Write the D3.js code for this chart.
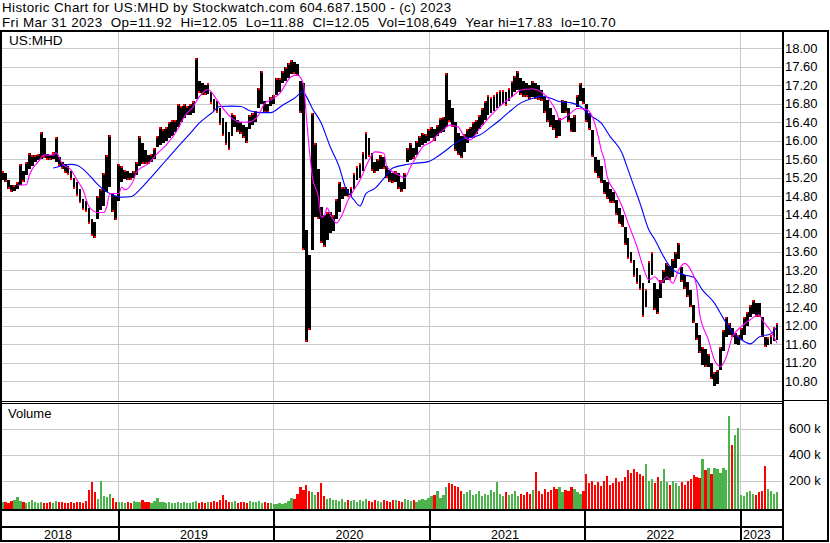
<!DOCTYPE html>
<html><head><meta charset="utf-8">
<script src="https://cdn.jsdelivr.net/npm/d3@7"></script>
<style>
body{margin:0;background:#fff}
svg{display:block}
text{font-family:"Liberation Sans",Arial,sans-serif;fill:#000}
</style>
</head><body>
<svg id="c" width="830" height="543"></svg>
<script>
// ---------------- DATA ----------------
const headerLines = [
  "Historic Chart for US:MHD by Stockwatch.com 604.687.1500 - (c) 2023",
  "Fri Mar 31 2023  Op=11.92  Hi=12.05  Lo=11.88  Cl=12.05  Vol=108,649  Year hi=17.83  lo=10.70"
];
const symbol = "US:MHD";
const firstWeek = "2018-04-02";   // Monday of first weekly bar
const lastDay = "2023-03-31";
const yearLabels = ["2018","2019","2020","2021","2022","2023"];
const priceTicks = [18.00,17.60,17.20,16.80,16.40,16.00,15.60,15.20,14.80,14.40,14.00,13.60,13.20,12.80,12.40,12.00,11.60,11.20,10.80];
const volTicks = [200,400,600];   // thousands

// weekly high / low
const weekHigh = [
15.35,15.30,15.15,15.05,15.05,15.10,15.50,15.35,15.55,15.73,
15.70,15.70,15.72,16.20,16.05,15.72,15.70,15.75,16.09,15.65,
15.55,15.50,15.45,15.35,15.20,15.10,14.95,14.75,14.70,14.55,
14.30,14.25,14.80,14.95,15.30,15.70,16.12,14.87,14.80,15.50,
15.45,15.37,15.35,15.30,15.35,15.55,16.10,15.95,15.80,15.70,
15.72,15.85,16.10,16.30,16.25,16.30,16.40,16.45,16.45,16.80,
16.75,16.80,16.75,16.80,16.85,17.80,17.30,17.25,17.20,17.25,
17.05,16.90,16.85,16.70,16.50,16.40,16.20,16.60,16.55,16.45,
16.40,16.35,16.30,16.55,16.60,16.65,17.14,17.50,16.85,16.80,
16.95,17.00,17.36,17.35,17.50,17.60,17.68,17.75,17.70,17.65,
17.30,17.25,14.07,13.53,16.60,15.95,15.40,14.57,14.40,14.45,
14.45,14.40,14.75,15.10,15.00,15.00,14.95,15.00,15.30,15.45,
15.52,15.75,16.18,16.05,15.73,15.55,15.60,15.70,15.65,15.45,
15.37,15.30,15.35,15.30,15.10,15.30,15.85,15.95,15.85,16.00,
16.10,16.17,16.15,16.25,16.30,16.25,16.35,16.50,16.52,17.46,
16.88,16.70,16.40,16.17,16.10,16.15,16.25,16.30,16.40,16.45,
16.55,16.70,16.85,17.00,16.95,17.00,17.05,17.10,17.10,17.05,
17.15,17.30,17.40,17.50,17.35,17.30,17.25,17.20,17.30,17.25,
17.20,17.10,16.95,16.88,16.70,16.55,16.45,16.50,16.88,16.85,
16.70,16.50,16.55,17.00,17.25,17.15,16.80,16.60,16.23,15.65,
15.58,15.45,15.15,15.10,14.95,14.90,14.72,14.55,14.40,14.14,
13.90,13.60,13.43,13.25,13.10,12.93,12.80,13.40,13.60,12.93,
12.80,13.00,13.20,13.36,13.30,13.45,13.60,13.78,13.28,13.10,
12.95,12.77,12.45,12.06,11.80,11.55,11.50,11.40,11.20,11.00,
11.05,11.55,11.90,12.20,12.06,11.95,11.84,11.80,11.95,12.20,
12.30,12.45,12.56,12.50,12.50,12.20,11.76,11.75,11.80,11.97,12.05];
const weekLow = [
15.15,15.10,14.95,14.90,14.92,14.95,15.05,15.10,15.25,15.40,
15.45,15.55,15.58,15.60,15.62,15.58,15.58,15.60,15.55,15.45,
15.40,15.30,15.25,15.15,14.95,14.80,14.65,14.50,14.45,14.20,
13.95,13.89,14.30,14.50,14.60,14.90,15.00,14.45,14.29,14.70,
15.10,15.18,15.15,15.15,15.20,15.25,15.45,15.50,15.50,15.50,
15.55,15.60,15.87,15.90,15.95,16.00,16.05,16.10,16.20,16.30,
16.40,16.50,16.55,16.55,16.60,16.90,17.03,17.00,17.00,17.02,
16.80,16.65,16.60,16.35,16.10,15.90,15.80,16.10,16.30,16.20,
16.15,16.05,15.95,16.25,16.35,16.40,16.70,16.80,16.60,16.60,
16.75,16.80,17.00,17.05,17.25,17.30,17.35,17.45,17.45,17.40,
16.60,13.64,11.66,11.90,13.64,14.35,14.30,13.80,13.70,13.85,
14.00,14.05,14.30,14.45,14.75,14.80,14.78,14.80,14.95,15.15,
15.20,15.35,15.60,15.65,15.35,15.30,15.35,15.40,15.40,15.20,
15.10,15.09,15.10,14.95,14.89,14.95,15.55,15.58,15.60,15.70,
15.87,15.90,15.95,16.00,16.05,16.00,16.10,16.17,16.20,16.30,
16.40,16.30,15.77,15.70,15.63,15.75,15.95,16.05,16.05,16.15,
16.25,16.35,16.45,16.55,16.60,16.65,16.70,16.75,16.80,16.75,
16.85,16.95,17.05,17.10,17.00,16.95,16.95,16.90,16.95,16.90,
16.88,16.85,16.60,16.40,16.30,16.23,16.06,16.10,16.60,16.60,
16.40,16.20,16.20,16.73,16.85,16.80,16.40,16.23,15.65,15.30,
15.20,15.09,14.85,14.75,14.65,14.65,14.40,14.20,14.14,13.75,
13.45,13.36,13.05,12.90,12.77,12.19,12.40,12.93,13.10,12.35,
12.25,12.60,12.93,13.00,13.00,13.06,13.25,13.45,12.95,12.80,
12.63,12.40,12.06,11.70,11.41,11.15,11.11,11.10,10.85,10.70,
10.75,11.05,11.45,11.76,11.80,11.76,11.60,11.58,11.70,11.80,
12.00,12.20,12.25,12.20,12.19,11.76,11.55,11.58,11.60,11.68,11.70];
// weekly volume in thousands
const weekVolK = [
35,40,30,45,55,75,45,40,30,35,
55,40,30,35,25,30,35,30,45,40,
35,30,25,35,30,40,35,30,45,130,
190,110,60,200,80,75,100,70,40,35,
40,30,35,25,45,40,35,50,40,35,
30,45,65,40,35,30,35,30,25,40,
30,35,25,30,35,45,30,40,30,35,
40,45,35,50,90,55,40,35,45,30,
40,35,30,45,40,35,45,30,35,30,
25,20,20,25,20,30,45,70,60,100,
150,130,165,120,110,90,110,185,80,60,
70,55,50,45,60,40,50,45,55,40,
50,45,60,45,40,55,45,40,50,45,
40,50,55,45,40,60,50,45,55,40,
50,60,55,65,80,90,120,70,90,150,
185,175,160,150,120,100,110,130,90,100,
120,80,100,90,130,110,190,100,80,110,
90,100,120,80,100,90,110,100,130,270,
120,100,140,110,130,150,140,150,110,130,
120,150,140,110,100,120,250,180,200,170,
190,160,200,240,170,180,220,190,200,230,
280,260,290,270,250,240,330,200,210,180,
230,200,290,190,170,200,180,160,190,170,
200,210,245,230,220,370,280,300,250,300,
290,260,300,280,700,477,554,608,90,80,
110,120,100,90,110,120,315,140,120,100,110];
const greenWeeks = [33,166,216,222,235,237,239,244,246,247];   // up-volume weeks
const redWeeks = [30,107,179,196,203,212,232,245,256];          // down-volume weeks
// moving averages: [week index, value]
const maFast = [[5,15.04],[8,15.05],[9,15.26],[12,15.55],[14,15.69],[17,15.69],[18,15.74],[20,15.51],[23,15.37],[25,15.15],[27,14.94],[29,14.58],[32,14.45],[34,14.45],[35,14.58],[36,14.86],[39,14.86],[40,15.00],[41,14.94],[44,15.15],[45,15.33],[49,15.51],[52,15.73],[55,15.91],[59,16.27],[61,16.52],[64,16.74],[66,16.95],[69,17.11],[72,16.88],[74,16.70],[77,16.49],[79,16.41],[81,16.40],[83,16.41],[86,16.56],[88,16.81],[90,16.88],[93,17.02],[97,17.39],[99,17.42],[101,17.24],[102,16.52],[103,15.80],[104,15.22],[106,14.79],[107,14.35],[108,14.38],[109,14.55],[110,14.40],[111,14.30],[112,14.22],[114,14.40],[116,14.72],[118,14.94],[120,15.15],[123,15.58],[125,15.76],[128,15.73],[129,15.44],[133,15.26],[135,15.20],[137,15.44],[139,15.66],[141,15.87],[144,15.98],[146,16.13],[148,16.23],[150,16.34],[153,16.30],[155,16.09],[157,16.02],[160,16.25],[164,16.55],[167,16.75],[171,16.95],[174,17.10],[178,17.12],[181,17.05],[184,16.85],[186,16.62],[187,16.45],[190,16.56],[193,16.70],[196,16.68],[198,16.52],[200,16.09],[201,15.80],[202,15.60],[203,15.22],[206,14.86],[208,14.58],[210,14.22],[213,13.71],[215,13.28],[217,12.99],[219,13.06],[221,12.92],[223,13.06],[225,12.92],[227,13.21],[229,13.35],[231,13.21],[233,12.85],[234,12.27],[237,11.69],[239,11.26],[241,11.12],[243,11.33],[245,11.76],[248,11.98],[251,12.13],[254,12.24],[255,12.13],[258,11.87],[260,11.62]];
const maSlow = [[17,15.41],[20,15.46],[23,15.49],[25,15.47],[28,15.33],[31,15.12],[34,14.94],[37,14.83],[40,14.78],[43,14.79],[46,14.94],[50,15.22],[53,15.44],[56,15.66],[60,15.95],[63,16.16],[66,16.38],[70,16.59],[73,16.74],[77,16.75],[80,16.74],[83,16.65],[87,16.61],[90,16.61],[94,16.77],[98,16.92],[101,17.06],[102,16.96],[104,16.70],[107,16.38],[110,15.87],[113,15.44],[115,15.01],[118,14.72],[120,14.59],[122,14.86],[125,14.97],[128,15.19],[131,15.41],[135,15.48],[138,15.51],[143,15.55],[146,15.66],[149,15.80],[152,15.95],[155,16.05],[157,16.07],[160,16.12],[164,16.30],[167,16.45],[170,16.62],[174,16.82],[178,16.92],[181,16.97],[184,16.92],[187,16.85],[191,16.82],[194,16.74],[197,16.56],[201,16.38],[204,16.09],[208,15.73],[210,15.37],[212,15.01],[214,14.65],[217,14.07],[219,13.86],[222,13.49],[225,13.21],[229,13.10],[232,13.05],[235,12.77],[239,12.49],[242,12.16],[245,11.87],[249,11.66],[251,11.61],[254,11.76],[258,11.83],[260,11.98]];

// ---------------- LAYOUT ----------------
const svg = d3.select("#c");
const plotL = 2, plotR = 782;
const priceTop = 32, priceBot = 401;
const volTop = 403, volBot = 509;
const GRID = "#c8c8c8";

const parse = d3.timeParse("%Y-%m-%d");
const t0 = parse(firstWeek), tEnd = parse(lastDay);
const weekMid = i => d3.timeDay.offset(t0, 7 * i + 2);

const x = d3.scaleTime()
  .domain([new Date(2019, 0, 1), new Date(2023, 0, 1)])
  .range([118.3, 740]);
const yP = d3.scaleLinear().domain([10.8, 18]).range([381.3, 48.3]);
const yV = d3.scaleLinear().domain([0, 600]).range([506.7, 428.7]);

const crisp = v => Math.round(v) + 0.5;
const years = yearLabels.map(y => new Date(+y, 0, 1));
const yearBounds = years.slice(1);

// header
svg.append("g").style("font-size", "13.4px").style("letter-spacing", "0.4px")
  .selectAll("text").data(headerLines).join("text")
  .attr("x", 2).attr("y", (d, i) => i ? 27.2 : 12.1)
  .style("white-space", "pre").text(d => d);

// price gridlines
const gP = svg.append("g").attr("shape-rendering", "crispEdges");
gP.selectAll("line.h").data(priceTicks).join("line")
  .attr("x1", plotL).attr("x2", plotR)
  .attr("y1", d => crisp(yP(d))).attr("y2", d => crisp(yP(d)))
  .attr("stroke", GRID);
gP.selectAll("line.v").data(yearBounds).join("line")
  .attr("x1", d => Math.floor(x(d)) + 0.5).attr("x2", d => Math.floor(x(d)) + 0.5)
  .attr("y1", priceTop).attr("y2", priceBot).attr("stroke", GRID);

// volume gridlines
const gV = svg.append("g").attr("shape-rendering", "crispEdges");
gV.selectAll("line.h").data(volTicks).join("line")
  .attr("x1", plotL).attr("x2", plotR)
  .attr("y1", d => crisp(yV(d))).attr("y2", d => crisp(yV(d)))
  .attr("stroke", GRID);
gV.selectAll("line.v").data(yearBounds).join("line")
  .attr("x1", d => Math.floor(x(d)) + 0.5).attr("x2", d => Math.floor(x(d)) + 0.5)
  .attr("y1", volTop).attr("y2", volBot).attr("stroke", GRID);

// symbol label
svg.append("text").attr("x", 9).attr("y", 45).style("font-size", "13.6px").text(symbol);
svg.append("text").attr("x", 8).attr("y", 418).style("font-size", "13px").text("Volume");

// price bars
const weeks = d3.range(weekHigh.length);
const mid = i => (weekHigh[i] + weekLow[i]) / 2;
const isUp = i => greenWeeks.includes(i) ? true : redWeeks.includes(i) ? false : (i === 0 ? true : mid(i) >= mid(i - 1));
svg.append("g").attr("shape-rendering", "crispEdges")
  .selectAll("rect").data(weeks).join("rect")
  .attr("x", i => x(weekMid(i)) - 1.4).attr("width", 2.8)
  .attr("y", i => yP(weekHigh[i]))
  .attr("height", i => Math.max(1, yP(weekLow[i]) - yP(weekHigh[i])))
  .attr("fill", "#000");
// red close ticks (close end of each weekly bar)
svg.append("g").attr("shape-rendering", "crispEdges")
  .selectAll("rect").data(weeks).join("rect")
  .attr("x", i => x(weekMid(i)) - 1).attr("width", 2)
  .attr("y", i => isUp(i) ? yP(weekHigh[i]) : yP(weekLow[i]) - 2).attr("height", 2)
  .attr("fill", "#ff0000");

// moving averages
const maLine = d3.line().x(d => x(weekMid(d[0]))).y(d => yP(d[1])).curve(d3.curveMonotoneX);
svg.append("path").attr("d", maLine(maSlow)).attr("fill", "none").attr("stroke", "#0000ff").attr("stroke-width", 1.1);
svg.append("path").attr("d", maLine(maFast)).attr("fill", "none").attr("stroke", "#ff00ff").attr("stroke-width", 1.1);

// volume bars
svg.append("g").attr("shape-rendering", "crispEdges")
  .selectAll("rect").data(weeks).join("rect")
  .attr("x", i => x(weekMid(i)) - 1.1).attr("width", 2.2)
  .attr("y", i => yV(weekVolK[i]))
  .attr("height", i => volBot - yV(weekVolK[i]))
  .attr("fill", i => isUp(i) ? "#4cb34c" : "#ff0000");

// axes
const axP = svg.append("g").attr("transform", `translate(${plotR + 1},0)`)
  .call(d3.axisRight(yP).tickValues(priceTicks).tickFormat(d3.format(".2f")).tickSize(0).tickPadding(2));
const axV = svg.append("g").attr("transform", `translate(${plotR + 1},0)`)
  .call(d3.axisRight(yV).tickValues(volTicks).tickFormat(d => d + " k").tickSize(0).tickPadding(6));
[axP, axV].forEach(a => {
  a.select(".domain").remove();
  a.selectAll("text").style("font-size", "13px").attr("font-family", null).style("fill", "#000");
  a.attr("font-family", null).attr("font-size", null);
});

// frame
const frame = svg.append("g").attr("shape-rendering", "crispEdges").attr("fill", "#000");
frame.append("rect").attr("x", 0).attr("y", 30).attr("width", 829).attr("height", 2);
frame.append("rect").attr("x", 0).attr("y", 30).attr("width", 2).attr("height", 512);
frame.append("rect").attr("x", 827).attr("y", 30).attr("width", 2).attr("height", 512);
frame.append("rect").attr("x", 0).attr("y", 540).attr("width", 829).attr("height", 2);
frame.append("rect").attr("x", plotR).attr("y", 30).attr("width", 2).attr("height", 512);
frame.append("rect").attr("x", 0).attr("y", 401).attr("width", plotR).attr("height", 1);
frame.append("rect").attr("x", 0).attr("y", 403).attr("width", plotR).attr("height", 1);
frame.append("rect").attr("x", plotR).attr("y", 400).attr("width", 829 - plotR).attr("height", 1);
frame.append("rect").attr("x", 0).attr("y", volBot).attr("width", plotR).attr("height", 2);
frame.append("rect").attr("x", 0).attr("y", 526).attr("width", plotR).attr("height", 2);
frame.selectAll("rect.sep").data(yearBounds).join("rect")
  .attr("x", d => Math.floor(x(d))).attr("width", 2)
  .attr("y", volBot).attr("height", 541 - volBot);

// year labels
const dataEnd = tEnd;
svg.append("g").style("font-size", "12.5px")
  .selectAll("text").data(years).join("text")
  .attr("x", d => {
    const a = d3.max([d, t0]);
    const b = d3.min([new Date(d.getFullYear() + 1, 0, 1), dataEnd]);
    return (x(a) + x(b)) / 2 - 2;
  })
  .attr("y", 539).attr("text-anchor", "middle")
  .text((d, i) => yearLabels[i]);
</script>
</body></html>
